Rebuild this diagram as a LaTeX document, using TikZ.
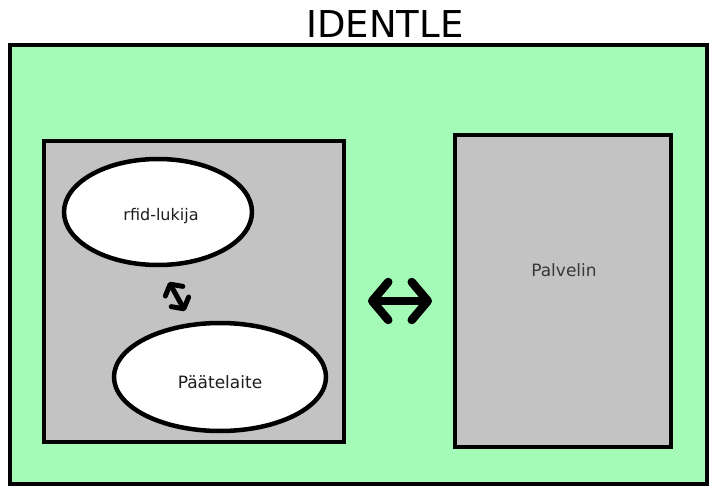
\documentclass[tikz,border=0pt]{standalone}
\usepackage{fontspec}
\setmainfont{DejaVu Sans}
\usetikzlibrary{shapes.geometric,arrows.meta}
\definecolor{panelgreen}{HTML}{A3FBB7}
\definecolor{boxgray}{HTML}{C3C3C3}
\definecolor{inktext}{HTML}{1E1E1E}
\tikzset{
  frame/.style={draw=black, line width=4pt, fill=panelgreen},
  unitbox/.style={draw=black, line width=4pt, fill=boxgray, inner sep=0pt},
  device/.style={ellipse, draw=black, line width=4.5pt, fill=white, inner sep=0pt},
  caption/.style={font=\fontsize{#1}{20}\selectfont, text=inktext, inner sep=0pt},
  bigarrow/.style={line width=8.5pt, line cap=round,
    {Straight Barb[length=16pt, width=38pt, round]}-{Straight Barb[length=16pt, width=38pt, round]}},
  smallarrow/.style={line width=5pt, line cap=round,
    {Straight Barb[length=8pt, width=20pt, round]}-{Straight Barb[length=8pt, width=20pt, round]}}
}
\begin{document}
\begin{tikzpicture}[x=1pt, y=-1pt]
  \path[use as bounding box, fill=white] (0,0) rectangle (715,489);

  % title
  \node (title) at (385,24) {\fontsize{37}{40}\selectfont IDENTLE};

  % outer system panel
  \draw[frame] (10,45) rectangle (707,484);

  % terminal side and server side
  \node[unitbox, minimum width=300pt, minimum height=300pt] (client) at (194,291.5) {};
  \node[unitbox, minimum width=216pt, minimum height=312pt] (server) at (563,291) {};
  \node[caption=17, text=black!78] (servername) at (564,270) {Palvelin};

  % devices inside the terminal box
  \node[device, minimum width=188pt, minimum height=106pt] (reader) at (158,212) {};
  \node[caption=16] (readername) at (161,216) {rfid-lukija};
  \node[device, minimum width=212pt, minimum height=108pt] (terminal) at (220,377) {};
  \node[caption=17] (terminalname) at (220,382) {Päätelaite};

  % links
  \coordinate (r1) at (169,282);
  \coordinate (r2) at (185,311);
  \draw[smallarrow] (r1) -- (r2);

  \coordinate (a1) at (368,301);
  \coordinate (a2) at (432,301);
  \draw[bigarrow] (a1) -- (a2);
\end{tikzpicture}
\end{document}
